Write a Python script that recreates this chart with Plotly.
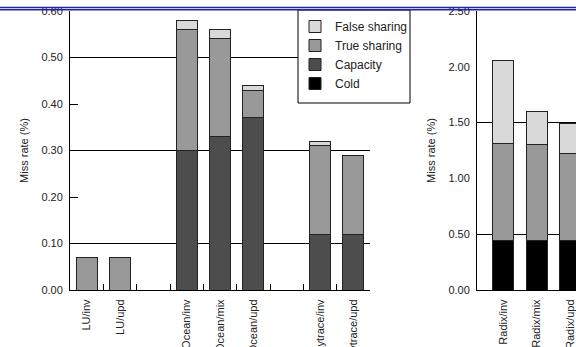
import plotly.graph_objects as go

# ---- data ----
left_axis_categories = ["LU/inv", "LU/upd", " ", "Ocean/inv", "Ocean/mix", "Ocean/upd", "  ",
                        "Raytrace/inv", "Raytrace/upd"]
left_categories = ["LU/inv", "LU/upd", "Ocean/inv", "Ocean/mix", "Ocean/upd",
                   "Raytrace/inv", "Raytrace/upd"]
left_cold = [0.0, 0.0, 0.0, 0.0, 0.0, 0.0, 0.0]
left_capacity = [0.0, 0.0, 0.30, 0.33, 0.37, 0.12, 0.12]
left_true = [0.07, 0.07, 0.26, 0.21, 0.06, 0.19, 0.17]
left_false = [0.0, 0.0, 0.02, 0.02, 0.01, 0.01, 0.0]

right_categories = ["Radix/inv", "Radix/mix", "Radix/upd"]
right_cold = [0.44, 0.44, 0.44]
right_capacity = [0.0, 0.0, 0.0]
right_true = [0.87, 0.86, 0.78]
right_false = [0.75, 0.30, 0.27]

series_names = ["Cold", "Capacity", "True sharing", "False sharing"]
series_colors = ["#000000", "#4d4d4d", "#999999", "#d9d9d9"]

left_ticks = [0.0, 0.1, 0.2, 0.3, 0.4, 0.5, 0.6]
left_grid = [0.1, 0.3, 0.5]
right_ticks = [0.0, 0.5, 1.0, 1.5, 2.0, 2.5]
right_grid = [0.5, 1.5, 2.5]

FONT = "Liberation Sans, Arial, sans-serif"
TXT = "#222222"

fig = go.Figure()
left_series = [left_cold, left_capacity, left_true, left_false]
right_series = [right_cold, right_capacity, right_true, right_false]
for name, color, lv, rv in zip(series_names, series_colors, left_series, right_series):
    fig.add_trace(go.Bar(x=left_categories, y=lv, name=name, marker_color=color,
                         marker_line=dict(color="#222222", width=1), width=0.63,
                         xaxis="x", yaxis="y", legendgroup=name))
    fig.add_trace(go.Bar(x=right_categories, y=rv, name=name, marker_color=color,
                         marker_line=dict(color="#222222", width=1), width=0.63,
                         xaxis="x2", yaxis="y2", legendgroup=name, showlegend=False,
                         cliponaxis=True))

W, H = 576, 347
top, bottom = 11, 290
PH = bottom - top

def py(pix):
    return (bottom - pix) / PH

axis_common = dict(showline=True, linecolor="black", linewidth=1, tickcolor="black",
                   tickfont=dict(family=FONT, size=11, color=TXT))

fig.update_layout(
    width=W, height=H, autosize=False,
    margin=dict(l=0, r=0, t=top, b=H - bottom, pad=0),
    paper_bgcolor="white", plot_bgcolor="white",
    barmode="stack", bargap=0,
    font=dict(family=FONT, size=11, color=TXT),
    showlegend=True,
    legend=dict(x=295 / W, xanchor="left", y=py(12), yanchor="top",
                borderwidth=0, bgcolor="rgba(0,0,0,0)",
                traceorder="reversed", itemwidth=30,
                font=dict(family=FONT, size=12, color=TXT)),
    xaxis=dict(domain=[70 / W, 370 / W], anchor="y", type="category",
               categoryorder="array", categoryarray=left_axis_categories,
               range=[-0.5, 8.5], tickson="boundaries", ticks="inside", ticklen=6,
               tickangle=-90, ticklabelstandoff=4, showgrid=False, automargin=False,
               **axis_common),
    yaxis=dict(domain=[0, 1], anchor="x", range=[0, 0.6], tickvals=left_ticks,
               ticktext=[f"{v:.2f}" for v in left_ticks], ticks="inside", ticklen=8,
               ticklabelstandoff=4,
               showgrid=False, zeroline=False, automargin=False,
               minor=dict(tickvals=left_grid, showgrid=True, gridcolor="black", gridwidth=1),
               title=dict(text="Miss rate (%)", standoff=10,
                          font=dict(family=FONT, size=11, color=TXT)),
               **axis_common),
    xaxis2=dict(domain=[477 / W, 1.0], anchor="y2", type="category",
                categoryorder="array", categoryarray=right_categories,
                range=[-0.79, 2.18], ticks="", tickangle=-90, ticklabelstandoff=4,
                showgrid=False, automargin=False, **axis_common),
    yaxis2=dict(domain=[0, 1], anchor="x2", range=[0, 2.5], tickvals=right_ticks,
                ticktext=[f"{v:.2f}" for v in right_ticks], ticks="",
                ticklabelstandoff=4,
                showgrid=False, zeroline=False, automargin=False,
                minor=dict(tickvals=right_grid, showgrid=True, gridcolor="black", gridwidth=1),
                title=dict(text="Miss rate (%)", standoff=10,
                           font=dict(family=FONT, size=11, color=TXT)),
                **axis_common),
)

# legend frame
fig.add_shape(type="rect", xref="paper", yref="paper",
              x0=298 / W, x1=410 / W, y0=py(103), y1=py(10),
              line=dict(color="black", width=1), fillcolor="white", layer="above")

# blue double rule across the top of the page
for yp in [7.5, 9.7]:
    fig.add_shape(type="line", xref="paper", yref="paper", x0=0, x1=1,
                  y0=py(yp), y1=py(yp),
                  line=dict(color="#2323a8", width=1.5), layer="above")

fig.write_html("out.html", config={"displayModeBar": False, "staticPlot": True},
               post_script="document.body.style.margin='0';document.body.style.padding='0';")
